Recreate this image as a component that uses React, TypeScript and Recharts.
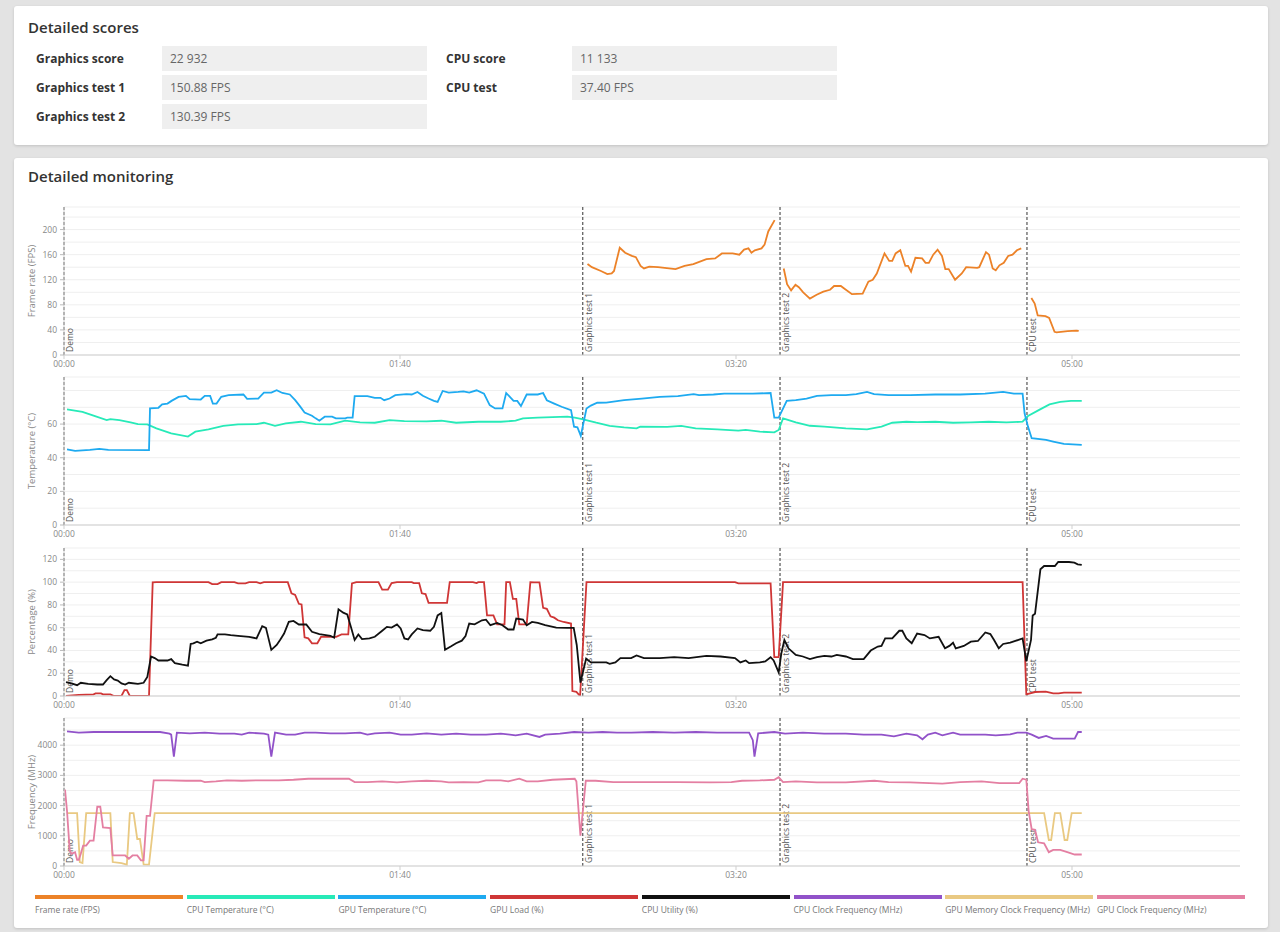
import React from 'react';
import { LineChart, Line, XAxis, YAxis, CartesianGrid, ReferenceLine } from 'recharts';

type Pt = [number, number | null];

// score table
const scoreRowsLeft = [
  ['Graphics score', '22 932'],
  ['Graphics test 1', '150.88 FPS'],
  ['Graphics test 2', '130.39 FPS'],
];
const scoreRowsRight = [
  ['CPU score', '11 133'],
  ['CPU test', '37.40 FPS'],
];

// test markers (seconds)
const markTimes = [0, 154.4, 213.1, 286.6];
const markNames = ['Demo', 'Graphics test 1', 'Graphics test 2', 'CPU test'];
const timeTicks = [0, 100, 200, 300];

const seriesNames = [
  'Frame rate (FPS)',
  'CPU Temperature (°C)',
  'GPU Temperature (°C)',
  'GPU Load (%)',
  'CPU Utility (%)',
  'CPU Clock Frequency (MHz)',
  'GPU Memory Clock Frequency (MHz)',
  'GPU Clock Frequency (MHz)',
];
const seriesColors = ['#ec8228', '#27eab8', '#1eaaf0', '#cf3636', '#111111', '#9152c9', '#e9c982', '#e47fa2'];

// [time s, value]
const fps: Pt[] = [
  [155.8, 145], [157.1, 140], [159.8, 134], [161.7, 129], [163, 130], [163.7, 134], [165.4, 171], [167, 163],
  [169, 158], [170.2, 156], [171.6, 142], [172.6, 138], [174.2, 141], [176.8, 140], [182, 137], [184.7, 142],
  [187.3, 145], [191.2, 153], [193.8, 154], [195.8, 162], [199, 162], [201, 160], [202.4, 168], [203.7, 170],
  [204.6, 163], [205.6, 167], [207.6, 170], [208.5, 176], [209.6, 197], [211.5, 215],
  [212.5, null],
  [214.2, 138], [215.2, 113], [216.4, 103], [217.7, 112], [218.7, 108], [220, 100], [222, 90], [224, 96],
  [226, 101], [228, 104], [229.2, 110], [231.2, 110], [232.5, 105], [234.5, 97], [237.7, 98], [239.4, 117],
  [240.7, 120], [241.9, 130], [244.2, 162], [245.6, 150], [246.5, 150], [247.5, 162], [248.9, 167], [250.4, 142],
  [251.2, 142], [252.1, 133], [253.4, 155], [255.4, 154], [256.4, 147], [257.4, 147], [258.7, 160], [260, 168],
  [261.3, 158], [262.3, 137], [263.3, 137], [265.2, 120], [267.2, 130], [268.5, 140], [271.8, 139], [272.4, 140],
  [274.4, 164], [275.3, 160], [276.4, 138], [277.3, 135], [278.4, 143], [279.7, 147], [281, 158], [282.3, 160],
  [283.6, 167], [284.9, 170],
  [286, null],
  [287.9, 91], [288.9, 82], [289.8, 63], [292.1, 62], [293.2, 59], [294.8, 37], [295.4, 36], [298.7, 38],
  [301.3, 39], [302, 38.5],
];

const cpuTemp: Pt[] = [
  [0.9, 68.7], [5.5, 67.3], [8.8, 65], [12.7, 62.4], [13.8, 63], [16.5, 62.4], [19.8, 61], [22, 60], [24.8, 59.8],
  [27.5, 57.5], [31.9, 54.5], [36.9, 52.6], [39.1, 55.5], [43, 56.9], [47.4, 58.9], [51.8, 59.8], [57.3, 60],
  [59.5, 60.8], [62.8, 59], [66, 60.4], [70.5, 61.4], [74.9, 60], [79.3, 59.8], [83.7, 62], [88.1, 61], [92.5, 60.8],
  [96.9, 62.4], [101.3, 61.8], [107.9, 61.6], [112.3, 62], [116.7, 60.8], [123.3, 61.4], [130, 61.4], [134.4, 62],
  [136.6, 63.4], [141, 63.8], [145.4, 64.2], [149.8, 64.4], [152, 63.8], [154.2, 63], [158.4, 60.8], [162.4, 59],
  [166.7, 58], [170.4, 57.5], [171.5, 58.5], [179.5, 58.3], [183.7, 58.9], [188, 57.5], [194.4, 56.9], [200.7, 56.1],
  [202.9, 56.5], [207.1, 55.5], [211.4, 55.1], [212.7, 56.5], [214, 63.4], [217.8, 61], [222, 59], [226.3, 58.5],
  [232.7, 57.5], [239, 56.9], [243.3, 58.5], [246.5, 60.8], [250.7, 61.4], [253.9, 61.2], [259.3, 61.4],
  [264.6, 60.8], [269.9, 61], [275.2, 61.4], [280.5, 61], [285.3, 61.4], [286.9, 64.8], [290.1, 68.3], [293.3, 71.7],
  [296.5, 73.2], [299.7, 73.8], [302.9, 73.8],
];

const gpuTemp: Pt[] = [
  [0.9, 45], [3.3, 44.1], [7.7, 44.7], [10.5, 45.3], [13.2, 44.7], [25.3, 44.5], [25.6, 69.3], [28.1, 69.7],
  [29.2, 71.7], [30.8, 72.2], [32, 73.8], [34.1, 76.2], [36.3, 76.8], [37.4, 74.8], [40.7, 74.6], [41.9, 76.8],
  [43.5, 76.8], [44.3, 72.2], [45.4, 72.2], [46.8, 76.2], [49, 77.2], [53.4, 77.6], [54.5, 75], [57.8, 75.2],
  [59.5, 78.7], [61.7, 78.7], [63.3, 80.1], [65, 78.5], [67.2, 77.6], [68.8, 74.2], [70.2, 70.7], [71.6, 66.9],
  [73.8, 65], [74.9, 63.4], [76, 62], [77.6, 64.4], [79.8, 64.4], [80.9, 63.4], [83.7, 63.4], [84.3, 63.8],
  [85.9, 63.8], [86.5, 76.6], [90.3, 76.6], [92.5, 75.6], [94.2, 75.6], [95.3, 74.2], [96.9, 75.2], [98.6, 77.2],
  [101.9, 77.8], [103.5, 77.6], [105.2, 79.1], [106.8, 76.8], [108.5, 75.2], [110.1, 73.8], [111.2, 73.2],
  [112.7, 79.7], [114.5, 78.7], [117.3, 79.1], [118.9, 79.5], [120.6, 78.7], [122.8, 80.1], [125, 78.1],
  [126.7, 71.3], [128.3, 69.3], [130.5, 69.3], [131.6, 78.5], [132.7, 76.2], [133.8, 73.8], [134.9, 73.8],
  [136, 70.7], [137.7, 77.6], [141, 77.6], [142.6, 78.5], [143.7, 74.2], [145.9, 72.2], [148.1, 70.3],
  [150.9, 68.3], [151.8, 58.5], [152.8, 58.1], [153.8, 53], [155.5, 69.3], [156.8, 71], [158.7, 72.7],
  [161.4, 72.8], [166.7, 74.2], [172, 75.2], [177.3, 76.2], [182.7, 76.6], [187.4, 77.8], [189, 77.2],
  [193.3, 77.6], [196.5, 78.1], [200.7, 78.1], [205, 78.1], [210.3, 78.5], [211.4, 63.8], [212.7, 63.8],
  [215.1, 73.8], [217.8, 74.2], [221, 75.2], [224.1, 76.8], [228.4, 77.2], [232.7, 77.2], [235.8, 77.8],
  [239, 79.1], [241.1, 77.8], [245.4, 77.2], [251.8, 77.2], [259.3, 77.6], [266.7, 77.6], [274.1, 78.1],
  [279.5, 79.1], [282.7, 78.1], [285.3, 78.1], [285.9, 66.3], [286.9, 58.5], [288, 51.6], [292.3, 50.6],
  [294.4, 49.6], [297.6, 48.2], [302.9, 47.6],
];

const gpuLoad: Pt[] = [
  [0.6, 0], [4.4, 1], [8.8, 1.4], [9.4, 2.3], [11, 2.3], [11.6, 1.4], [13.8, 1.4], [14.9, 0], [17.1, 0], [18, 5.2],
  [18.7, 5.2], [19.6, 0], [25.3, 0], [26.4, 99.8], [27.5, 100], [43, 100], [44.1, 98.3], [45.7, 98.3], [46.8, 100],
  [50.7, 100], [51.8, 99], [54, 99], [55.1, 100], [57.3, 100], [58.4, 99], [59.5, 100], [66.6, 100], [67.7, 90.2],
  [68.8, 88.8], [69.9, 81], [70.7, 80.4], [71.6, 51.5], [72.7, 50.6], [73.8, 46.3], [75.4, 46.3], [76.5, 52],
  [81, 52], [82.6, 54.1], [84.6, 54.1], [85.7, 98.9], [87, 100], [93.6, 100], [94.7, 93.4], [96.4, 93.4],
  [97.5, 99.2], [99.1, 100], [103.5, 100], [104.1, 99.2], [105.7, 99.2], [106.5, 90.2], [107.6, 89.6],
  [108.5, 81.8], [114, 81.8], [114.8, 100], [121.7, 100], [122.8, 99.2], [123.3, 100], [125, 100], [125.9, 70.8],
  [127.8, 70.8], [128.9, 63], [131.1, 63], [131.6, 100], [132.7, 100], [133.6, 85.3], [134.6, 85.3], [135.5, 63],
  [137.7, 63], [138.8, 100], [139.9, 99.8], [141.5, 99.8], [142.6, 77.5], [143.7, 76.6], [144.8, 70], [145.9, 68.8],
  [147, 66.5], [148.7, 65], [150.9, 63.6], [151.3, 4.3], [152.5, 3.6], [153.6, 0], [155.5, 100], [199.7, 100],
  [200.7, 99], [210.3, 99], [211.4, 34.1], [212.7, 34.1], [214, 100], [285.3, 100], [286.4, 1.4], [289, 3.5],
  [292.2, 3.8], [294.4, 2.3], [296, 2.3], [297.6, 2.9], [302.9, 2.9],
];

const cpuUtil: Pt[] = [
  [0.6, 12.1], [2.2, 11], [3.9, 9.5], [5, 11.6], [7.2, 10.7], [9.9, 10.1], [11.6, 10.1], [12.7, 13.9], [13.8, 17.4],
  [14.9, 14.5], [16, 13.6], [17.1, 11], [18.2, 10.1], [19.3, 11.6], [22, 10.7], [23.7, 11.6], [24.8, 16.8],
  [25.9, 34.7], [27, 33.3], [28.1, 31.2], [30.8, 31.2], [31.9, 32.4], [33, 28.9], [35.2, 27.5], [36.9, 26.6],
  [37.7, 45.7], [38.5, 46.3], [39.6, 47.7], [40.7, 46.3], [42.4, 48.6], [44.1, 49.7], [45.2, 51.2], [45.7, 54.1],
  [47.9, 54.1], [49.6, 53.5], [51.8, 52.9], [55.1, 52], [57.3, 50.6], [59, 61.3], [60.1, 59.9], [61.7, 40.5],
  [63.3, 44.8], [64.4, 49.7], [65.5, 54.9], [66.9, 65.1], [68.3, 65.9], [69.9, 62.8], [72.1, 62.8], [73.8, 56.4],
  [76, 54.4], [79.3, 52.9], [80.4, 51.2], [81.7, 76.1], [83.1, 73.2], [84.3, 71.7], [85.4, 60.7], [86.5, 49.2],
  [87.6, 54.1], [88.7, 50], [90.9, 50.6], [92.5, 52], [94.7, 57.3], [96.1, 60.7], [97.5, 60.1], [99.1, 62.8],
  [100.2, 59.3], [101.3, 50.6], [102.4, 49.7], [103.5, 54.1], [105.2, 59.3], [106.8, 57.8], [109, 57.3],
  [110.1, 60.7], [111.2, 70.8], [112.3, 72.9], [113.4, 40.5], [115.1, 43.4], [116.7, 46.3], [118.4, 48.6],
  [119.5, 52.6], [120.6, 63.6], [122.2, 63], [124.4, 66.5], [125.6, 67.1], [126.9, 62.2], [128.9, 64.2],
  [130.5, 62.2], [132.2, 58.4], [133.8, 58.4], [134.6, 68], [136.6, 67.1], [137.7, 62.2], [139.3, 65.1],
  [141, 64.2], [143.2, 62.2], [146.5, 60.1], [149.8, 59.9], [151.7, 59.9], [152.6, 44.8], [153.7, 11.8],
  [155.4, 32.8], [156.8, 29.5], [159.3, 29.5], [161.4, 29.5], [162.4, 28.3], [164.1, 29.5], [165.6, 33.3],
  [168.8, 33.3], [170.4, 35.6], [172.6, 33.3], [177.3, 33.3], [181.6, 34.1], [185.9, 33.3], [191.2, 35.3],
  [195.4, 34.7], [199.7, 33.3], [201.3, 29.5], [202.9, 31.2], [203.9, 28.9], [207.1, 29.5], [208.7, 30.4],
  [210.3, 34.1], [211.2, 31.2], [212.7, 20.8], [213.5, 37.6], [214.4, 49.2], [215.6, 41.9], [217.8, 36.1],
  [219.9, 34.7], [222, 32.4], [224.1, 34.1], [226.3, 35.3], [228.4, 34.7], [230, 36.1], [232.7, 34.7],
  [234.8, 32.4], [238, 32.4], [240.1, 39.9], [242.2, 43.4], [243.3, 44], [244.4, 50.6], [246.5, 50.6],
  [248.6, 57.3], [249.5, 57.3], [250.7, 50.6], [252.3, 46.3], [253.9, 54.9], [256.1, 53.5], [257.7, 50.6],
  [260.3, 52], [262.2, 41.9], [263.5, 44], [264.6, 46.8], [265.4, 41.9], [267.8, 44], [269.9, 47.7], [272, 48.3],
  [274.2, 55.8], [275.7, 54.4], [276.8, 49.2], [278.2, 41.9], [279.5, 45.7], [281.6, 46.8], [285.3, 50.6],
  [286.4, 30.4], [287.8, 49.2], [288.3, 70.8], [289, 72.3], [290.6, 111.3], [291.7, 114.2], [294.9, 114.2],
  [295.9, 117.7], [299.1, 117.7], [300.7, 117.1], [301.7, 115.7], [302.9, 115.1],
];

const cpuClock: Pt[] = [
  [0.9, 4458], [4.4, 4415], [8.8, 4436], [19.8, 4436], [28.6, 4436], [31.4, 4382], [31.9, 4349], [32.7, 3619],
  [33.6, 4415], [37.4, 4393], [41.9, 4415], [46.3, 4382], [50.7, 4382], [52.9, 4349], [55.1, 4415], [59.5, 4382],
  [60.8, 4349], [61.7, 3619], [62.8, 4415], [66.1, 4349], [68.8, 4349], [71.6, 4415], [74.9, 4415], [79.3, 4393],
  [83.7, 4393], [88.1, 4415], [90.3, 4349], [92.5, 4393], [96.9, 4415], [100.2, 4349], [103.5, 4349],
  [107.9, 4393], [112.3, 4349], [116.7, 4382], [121.1, 4349], [125.6, 4349], [130, 4382], [134.4, 4327],
  [137.7, 4382], [141.5, 4273], [143.2, 4349], [147.6, 4382], [151.8, 4436], [156.1, 4415], [160.3, 4436],
  [164.6, 4415], [168.8, 4415], [175.2, 4436], [181.6, 4415], [188, 4436], [194.4, 4415], [199.7, 4415],
  [203.9, 4415], [205, 4164], [205.5, 3619], [206.6, 4393], [211.4, 4436], [214.6, 4382], [219.9, 4415],
  [226.3, 4382], [232.7, 4382], [238, 4349], [243.3, 4349], [247, 4295], [250.7, 4382], [253.9, 4327],
  [255.5, 4197], [257.1, 4349], [259.3, 4415], [261.4, 4327], [264.6, 4415], [266.7, 4349], [271, 4349],
  [274.2, 4349], [277.3, 4327], [281.6, 4360], [283.7, 4415], [286.4, 4415], [288, 4349], [290.1, 4240],
  [292.3, 4306], [294.4, 4218], [300.8, 4218], [301.8, 4436], [302.9, 4436],
];

const gpuMemClock: Pt[] = [
  [0.9, 1750], [3.9, 1750], [4.7, 131], [5.5, 98], [6.6, 1750], [13.8, 1750], [14.5, 131], [17.1, 98], [18.7, 44],
  [19.6, 1750], [20.7, 1750], [21.8, 894], [22.6, 894], [23.7, 55], [25.3, 44], [27, 1750], [291.7, 1750],
  [293.1, 861], [293.8, 861], [294.9, 1750], [296.5, 1750], [297.8, 861], [298.6, 861], [299.9, 1750],
  [302.9, 1750],
];

const gpuClock: Pt[] = [
  [0.3, 2529], [0.9, 1820], [1.7, 512], [2.2, 403], [3.3, 458], [3.9, 207], [4.4, 207], [5, 403], [5.7, 676],
  [6.6, 676], [7.7, 839], [8.8, 839], [9.9, 1962], [10.8, 1962], [11.6, 1275], [13.8, 1253], [14.5, 349],
  [18.2, 349], [19.3, 240], [20.4, 349], [21.8, 349], [22.9, 185], [23.7, 185], [24.6, 1657], [25.6, 1657],
  [26.7, 2834], [30.8, 2834], [36.3, 2823], [40.7, 2823], [41.9, 2780], [45.2, 2801], [48.5, 2834], [52.9, 2823],
  [57.3, 2834], [63.9, 2834], [68.3, 2856], [72.7, 2889], [79.3, 2889], [84.8, 2889], [86.5, 2780], [90.3, 2780],
  [94.7, 2801], [99.1, 2769], [103.5, 2801], [107.9, 2823], [112.3, 2801], [114.5, 2769], [118.9, 2780],
  [123.3, 2769], [125.6, 2834], [130, 2834], [132.2, 2801], [135.5, 2889], [137.7, 2801], [141, 2801],
  [145.4, 2856], [152, 2889], [152.5, 2801], [153.7, 1003], [155.3, 2823], [158.2, 2823], [163.5, 2780],
  [168.8, 2780], [175.2, 2780], [182.7, 2780], [192.2, 2769], [198.6, 2780], [201.8, 2823], [207.1, 2834],
  [211.4, 2856], [212.7, 2943], [214, 2780], [217.8, 2801], [224.1, 2769], [232.7, 2769], [241.2, 2823],
  [245.4, 2780], [251.8, 2769], [261.4, 2725], [266.7, 2780], [273.1, 2801], [278.4, 2747], [284.3, 2747],
  [285.3, 2889], [286.4, 2856], [287.1, 1820], [288, 1221], [289, 1199], [289.9, 785], [291.7, 752], [293.1, 458],
  [294.4, 534], [296.5, 534], [298.6, 458], [300.8, 381], [302.9, 381],
];

const toRows = (pts: Pt[]) => pts.map(([t, v]) => ({ t, v }));

const fmtTime = (s: number) => {
  const m = Math.floor(s / 60);
  const r = Math.round(s % 60);
  return `${String(m).padStart(2, '0')}:${String(r).padStart(2, '0')}`;
};

const YTick = (props: any) => {
  const { y, payload, labels } = props;
  if (!labels.includes(payload.value)) return <g />;
  return (
    <g>
      <line x1={60} x2={64} y1={y} y2={y} stroke="#bbb" />
      <text x={57} y={y} dy="0.35em" textAnchor="end" fontSize={8.5} fill="#888">
        {payload.value}
      </text>
    </g>
  );
};

const MarkLabel = (props: any) => {
  const { viewBox, text } = props;
  if (!viewBox) return null;
  const x = viewBox.x + 9;
  const y = viewBox.y + viewBox.height - 3;
  return (
    <text x={x} y={y} transform={`rotate(-90 ${x} ${y})`} fontSize={8.5} fill="#555">
      {text}
    </text>
  );
};

type PanelLine = { data: Pt[]; color: string };

function Panel(props: {
  top: number;
  yLabel: string;
  yMax: number;
  grid: number[];
  labels: number[];
  lines: PanelLine[];
}) {
  const { top, yLabel, yMax, grid, labels, lines } = props;
  return (
    <div style={{ position: 'absolute', left: 0, top }}>
      <LineChart width={1250} height={173} margin={{ top: 7, right: 10, bottom: 0, left: 0 }}>
        <CartesianGrid vertical={false} stroke="#efefef" />
        <XAxis
          type="number"
          dataKey="t"
          domain={[0, 350]}
          ticks={timeTicks}
          tickFormatter={fmtTime}
          allowDataOverflow
          height={18}
          tickSize={4}
          tick={{ fontSize: 8.5, fill: '#888' }}
          stroke="#cfcfcf"
        />
        <YAxis
          type="number"
          dataKey="v"
          domain={[0, yMax]}
          ticks={grid}
          interval={0}
          width={64}
          tickLine={false}
          tick={<YTick labels={labels} />}
          axisLine={{ stroke: '#cfcfcf' }}
          label={{ value: yLabel, angle: -90, position: 'center', fontSize: 9.5, fill: '#888' }}
          allowDataOverflow
        />
        {markTimes.map((m, i) => (
          <ReferenceLine
            key={markNames[i]}
            x={m}
            stroke="#333"
            strokeDasharray="3 2"
            label={<MarkLabel text={markNames[i]} />}
          />
        ))}
        {lines.map((l, i) => (
          <Line
            key={i}
            data={toRows(l.data)}
            dataKey="v"
            type="linear"
            stroke={l.color}
            strokeWidth={1.8}
            dot={false}
            activeDot={false}
            connectNulls={false}
            isAnimationActive={false}
          />
        ))}
      </LineChart>
    </div>
  );
}

const cardStyle: React.CSSProperties = {
  position: 'absolute',
  left: 14,
  width: 1254,
  background: '#fff',
  borderRadius: 3,
  boxShadow: '0 1px 3px rgba(0,0,0,0.15)',
};

const titleStyle: React.CSSProperties = {
  position: 'absolute',
  left: 14,
  fontSize: 15,
  fontWeight: 600,
  color: '#333',
};

function ScoreRow({ label, value, x, y }: { label: string; value: string; x: number; y: number }) {
  return (
    <>
      <div style={{ position: 'absolute', left: x, top: y, height: 25, lineHeight: '25px', fontSize: 12, fontWeight: 700, color: '#333' }}>
        {label}
      </div>
      <div
        style={{
          position: 'absolute',
          left: x + 126,
          top: y,
          width: 265,
          height: 25,
          lineHeight: '25px',
          background: '#efefef',
          fontSize: 12,
          color: '#666',
          paddingLeft: 8,
          boxSizing: 'border-box',
        }}
      >
        {value}
      </div>
    </>
  );
}

export default function App() {
  return (
    <div
      style={{
        position: 'absolute',
        left: 0,
        top: 0,
        width: 1280,
        height: 932,
        background: '#e3e3e3',
        fontFamily: "'Open Sans', sans-serif",
        overflow: 'hidden',
      }}
    >
      <div style={{ ...cardStyle, top: 6, height: 139 }}>
        <div style={{ ...titleStyle, top: 11 }}>Detailed scores</div>
        {scoreRowsLeft.map(([l, v], i) => (
          <ScoreRow key={l} label={l} value={v} x={22} y={40 + i * 29} />
        ))}
        {scoreRowsRight.map(([l, v], i) => (
          <ScoreRow key={l} label={l} value={v} x={432} y={40 + i * 29} />
        ))}
      </div>

      <div style={{ ...cardStyle, top: 158, height: 770 }}>
        <div style={{ ...titleStyle, top: 8 }}>Detailed monitoring</div>
      </div>

      <Panel
        top={200}
        yLabel="Frame rate (FPS)"
        yMax={236}
        grid={[0, 20, 40, 60, 80, 100, 120, 140, 160, 180, 200, 220]}
        labels={[0, 40, 80, 120, 160, 200]}
        lines={[{ data: fps, color: seriesColors[0] }]}
      />
      <Panel
        top={370}
        yLabel="Temperature (°C)"
        yMax={88}
        grid={[0, 10, 20, 30, 40, 50, 60, 70, 80]}
        labels={[0, 20, 40, 60]}
        lines={[
          { data: cpuTemp, color: seriesColors[1] },
          { data: gpuTemp, color: seriesColors[2] },
        ]}
      />
      <Panel
        top={541}
        yLabel="Percentage (%)"
        yMax={130}
        grid={[0, 10, 20, 30, 40, 50, 60, 70, 80, 90, 100, 110, 120]}
        labels={[0, 20, 40, 60, 80, 100, 120]}
        lines={[
          { data: gpuLoad, color: seriesColors[3] },
          { data: cpuUtil, color: seriesColors[4] },
        ]}
      />
      <Panel
        top={711}
        yLabel="Frequency (MHz)"
        yMax={4900}
        grid={[0, 500, 1000, 1500, 2000, 2500, 3000, 3500, 4000, 4500]}
        labels={[0, 1000, 2000, 3000, 4000]}
        lines={[
          { data: cpuClock, color: seriesColors[5] },
          { data: gpuMemClock, color: seriesColors[6] },
          { data: gpuClock, color: seriesColors[7] },
        ]}
      />

      {seriesNames.map((n, i) => (
        <div key={n} style={{ position: 'absolute', left: 35 + i * 151.7, top: 895, width: 148 }}>
          <div style={{ height: 4, background: seriesColors[i] }} />
          <div style={{ fontSize: 8.5, color: '#777', marginTop: 5, whiteSpace: 'nowrap' }}>{n}</div>
        </div>
      ))}
    </div>
  );
}
